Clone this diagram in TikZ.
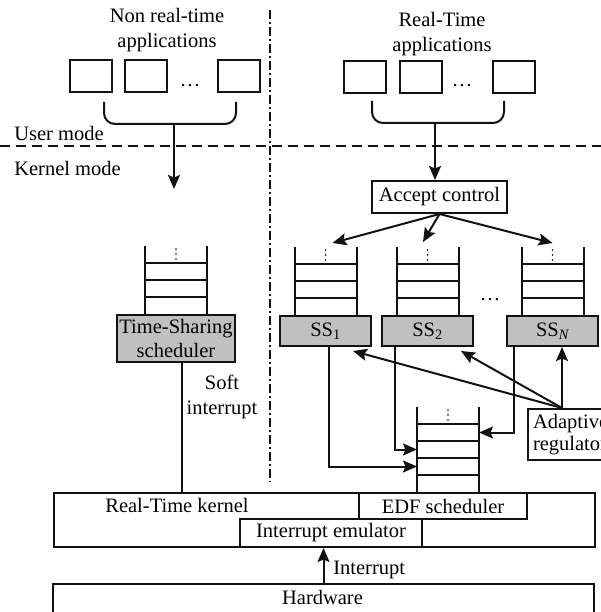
\documentclass[tikz,border=0pt]{standalone}
\usepackage{fontspec}
\setmainfont{Liberation Serif}
\usetikzlibrary{arrows.meta, positioning, calc}
\definecolor{schedgray}{RGB}{192, 192, 192}
\definecolor{lineblack}{RGB}{18, 18, 18}

\tikzset{
    appbox/.style={draw=lineblack, minimum width=42pt, minimum height=32pt, inner sep=0pt},
    plainbox/.style={draw=lineblack, fill=white, inner sep=0pt},
    schedbox/.style={draw=lineblack, fill=schedgray, inner sep=0pt, minimum width=91pt, minimum height=30pt},
    qframe/.style={inner sep=0pt, outer sep=0pt, minimum width=62pt},
    arr/.style={-{Stealth[length=14pt, width=12pt, inset=2.5pt]}},
}

% queue: name, position of its bottom, number of slots
\newcommand{\taskqueue}[3]{
    \node[qframe, minimum height={(#3+1)*17pt}, anchor=south] (#1) at (#2) {};
    \draw (#1.north west) -- (#1.south west) (#1.north east) -- (#1.south east);
    \foreach \k in {1,...,#3} {
        \draw ($(#1.south west)+(0,\k*17pt)$) -- ++(62pt,0);
        \coordinate (#1-\k) at ($(#1.south)+(0,\k*17pt-8.5pt)$);
    }
    \foreach \j in {3,8,13} \fill ($(#1.north)+(0,-\j pt)$) circle (0.9pt);
}

\begin{document}
\begin{tikzpicture}[x=1pt, y=-1pt, line width=2pt, draw=lineblack, font=\fontsize{20.5}{25}\selectfont]
    \useasboundingbox (0,0) rectangle (601,612);

    % Modos
    \draw[dash pattern=on 10pt off 6pt] (0,146) -- (601,146);
    \draw[dash pattern=on 9pt off 3pt on 2pt off 3pt] (270,10) -- (270,482);
    \node[anchor=west] (usermode) at (10,133) {User mode};
    \node[anchor=west] (kernelmode) at (10,168) {Kernel mode};

    % Non real-time applications
    \node[align=center] (nrt) at (167,30) {Non real-time\\applications};
    \node[appbox] (nrt1) at (90.5,76) {};
    \node[appbox] (nrt2) at (146,76) {};
    \node (nrtdots) at (190,86) {…};
    \node[appbox] (nrt3) at (239,76) {};
    \draw[rounded corners=11pt] (104,102) |- (236,124) -- (236,102);
    \coordinate (nbm) at (174,124);
    \coordinate (nend) at (174,189);
    \draw[arr] (nbm) -- (nend);

    % Real-time applications
    \node[align=center] (rt) at (442,34) {Real-Time\\applications};
    \node[appbox] (rt1) at (365,77.5) {};
    \node[appbox] (rt2) at (421,77.5) {};
    \node (rtdots) at (462,86) {…};
    \node[appbox] (rt3) at (513.5,77.5) {};
    \draw[rounded corners=11pt] (372,101) |- (504,123) -- (504,101);
    \coordinate (rbm) at (435,123);
    \node[plainbox, minimum width=135pt, minimum height=32pt] (acc) at (439.5,197) {Accept control};
    \draw[arr] (rbm) -- (rbm |- acc.north);

    % Schedulers
    \node[schedbox, minimum width=118pt, minimum height=47pt, align=center, font=\fontsize{20.5}{24}\selectfont] (ts) at (176,338.5) {Time-Sharing\\scheduler};
    \node[schedbox] (ss1) at (325.5,331) {SS\textsubscript{1}};
    \node[schedbox] (ss2) at (427.5,331) {SS\textsubscript{2}};
    \node (ssdots) at (490,300) {…};
    \node[schedbox] (ssn) at (552.5,331) {SS\textsubscript{\itshape N}};
    \taskqueue{tsq}{ts.north}{3}
    \taskqueue{q1}{ss1.north}{3}
    \taskqueue{q2}{ss2.north}{3}
    \taskqueue{qn}{ssn.north}{3}
    \draw[arr] (acc.south) -- ([xshift=7pt,yshift=4pt]q1.north);
    \draw[arr] (acc.south) -- ([xshift=-4.5pt,yshift=5pt]q2.north);
    \draw[arr] (acc.south) -- ([yshift=4pt]qn.north);

    % Kernel
    \node[plainbox, minimum width=541pt, minimum height=54pt, anchor=north west] (kern) at (53,492) {};
    \node (kernlabel) at (177,505) {Real-Time kernel};
    \node[plainbox, minimum width=168pt, minimum height=26pt, anchor=north west] (edf) at (358,492) {EDF scheduler};
    \node[plainbox, minimum width=182pt, minimum height=28pt, anchor=north west] (emu) at (239,518) {Interrupt emulator};
    \taskqueue{edfq}{[xshift=5pt]edf.north}{4}

    \draw ([xshift=6pt]ts.south) coordinate (tsout) -- (tsout |- kern.north);
    \node[align=center] (soft) at (222,397) {Soft\\interrupt};

    \draw[arr] ([xshift=3.5pt]ss1.south) |- (edfq-2 -| edfq.west);
    \draw[arr] ([xshift=14pt]ss2.south west) |- (edfq-3 -| edfq.west);
    \draw[arr] ([xshift=8pt]ssn.south west) |- (edfq-4 -| edfq.east);

    % Adaptive regulator
    \node[plainbox, align=left, anchor=north west, inner sep=5pt, minimum height=50pt, font=\fontsize{20.5}{22}\selectfont] (adapt) at (527,408) {Adaptive\\regulator};
    \coordinate (adtop) at ([xshift=35pt]adapt.north west);
    \draw[arr] (adtop) -- ([xshift=-19pt,yshift=-4pt]ss1.south east);
    \draw[arr] (adtop) -- ([xshift=-13pt,yshift=-4pt]ss2.south east);
    \draw[arr] (adtop) -- (adtop |- ssn.south);

    % Hardware
    \node[draw, minimum width=541pt, minimum height=60pt, anchor=north west] (hw) at (52,583) {};
    \node (hwlabel) at (322.5,597) {Hardware};
    \draw[arr] (hw.north) -- (hw.north |- emu.south);
    \node[anchor=west] (intlabel) at (329,570) {Interrupt};
\end{tikzpicture}
\end{document}
